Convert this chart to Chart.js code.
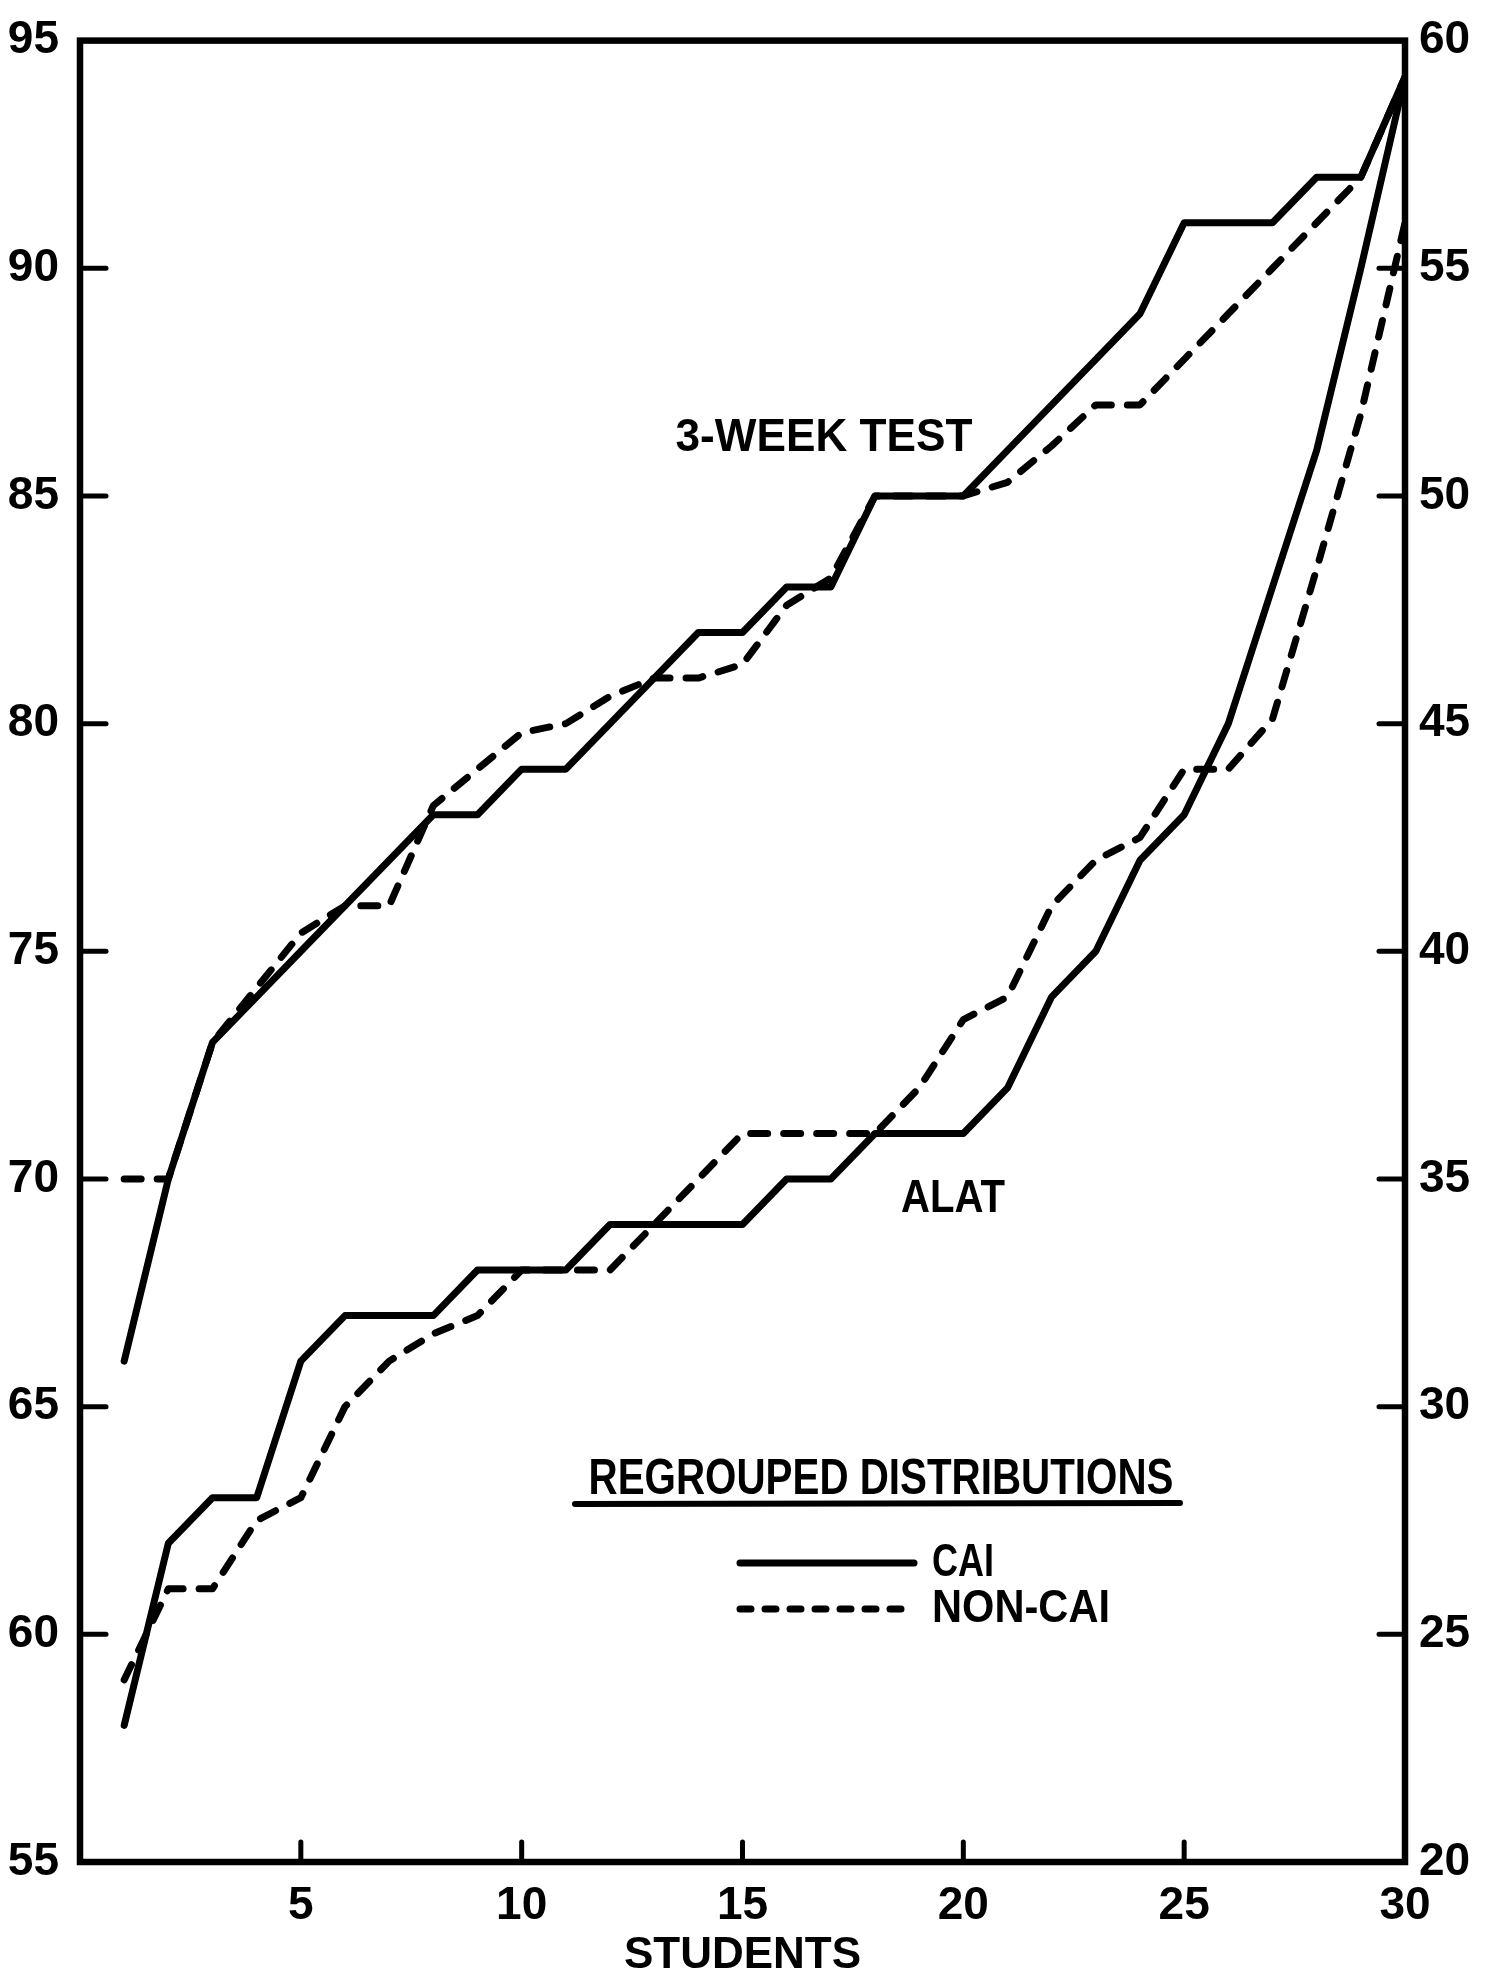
<!DOCTYPE html>
<html>
<head>
<meta charset="utf-8">
<script src="https://cdn.jsdelivr.net/npm/chart.js@4.4.1/dist/chart.umd.min.js"></script>
<style>
html,body{margin:0;padding:0;background:#fff;}
canvas{display:block;}
</style>
</head>
<body>
<canvas id="c" width="1493" height="1985"></canvas>
<script>
// ---- data ----
const students = [1,2,3,4,5,6,7,8,9,10,11,12,13,14,15,16,17,18,19,20,21,22,23,24,25,26,27,28,29,30];
// 3-WEEK TEST (left axis)
const weekCAI    = [66,70,73,74,75,76,77,78,78,79,79,80,81,82,82,83,83,85,85,85,86,87,88,89,91,91,91,92,92,94.2];
const weekNonCAI = [70,70,73,74.2,75.4,76,76,78.2,79,79.8,80,80.6,81,81,81.3,82.6,83.2,85,85,85,85.3,86.1,87,87,88,89,90,91,92,94.2];
// ALAT (right axis)
const alatCAI    = [23,27,28,28,31,32,32,32,33,33,33,34,34,34,34,35,35,36,36,36,37,39,40,42,43,45,48,51,55,59.2];
const alatNonCAI = [24,26,26,27.5,28,30,31,31.6,32,33,33,33,34,35,36,36,36,36,37,38.5,39,41,42,42.5,44,44,45.1,48.4,51.8,56];
// axes
const xTickValues = [5,10,15,20,25,30];
const leftTickValues = [55,60,65,70,75,80,85,90,95];
const rightTickValues = [20,25,30,35,40,45,50,55,60];
const xTitle = 'STUDENTS';
const seriesNames = ['CAI','NON-CAI'];

const FONT = '"Liberation Sans", Arial, sans-serif';
const toPts = vals => students.map((s, i) => ({x: s, y: vals[i]}));
const DASH = [17, 16];

function lineDs(label, vals, axis, dashed) {
  return {
    label, data: toPts(vals), yAxisID: axis,
    borderColor: '#000', borderWidth: 7, pointRadius: 0, tension: 0,
    borderJoinStyle: 'round', borderCapStyle: 'round', fill: false,
    borderDash: dashed ? DASH : []
  };
}

function fitText(ctx, text, x, y, width, px, align) {
  ctx.save();
  ctx.font = 'bold ' + px + 'px ' + FONT;
  const m = ctx.measureText(text).width;
  ctx.translate(x, y);
  ctx.scale(width / m, 1);
  ctx.textAlign = align;
  ctx.textBaseline = 'middle';
  ctx.fillStyle = '#000';
  ctx.fillText(text, 0, 0);
  ctx.restore();
}

const framePlugin = {
  id: 'frameAndNotes',
  afterDatasetsDraw(chart) {
    const {ctx, chartArea: a, scales} = chart;
    ctx.save();
    ctx.strokeStyle = '#000';
    ctx.lineWidth = 6.5;
    ctx.lineJoin = 'miter';
    ctx.strokeRect(a.left, a.top, a.right - a.left, a.bottom - a.top);
    // inward tick marks
    ctx.lineWidth = 5;
    ctx.lineCap = 'round';
    const seg = (x1, y1, x2, y2) => { ctx.beginPath(); ctx.moveTo(x1, y1); ctx.lineTo(x2, y2); ctx.stroke(); };
    leftTickValues.slice(1, -1).forEach(v => { const y = scales.y.getPixelForValue(v); seg(a.left, y, a.left + 26, y); });
    rightTickValues.slice(1, -1).forEach(v => { const y = scales.y2.getPixelForValue(v); seg(a.right - 26, y, a.right, y); });
    xTickValues.slice(0, -1).forEach(v => { const x = scales.x.getPixelForValue(v); seg(x, a.bottom, x, a.bottom - 20); });

    // curve labels
    fitText(ctx, '3-WEEK TEST', 824, 438, 297, 46, 'center');
    fitText(ctx, 'ALAT', 953, 1199, 104, 46, 'center');

    // legend
    fitText(ctx, 'REGROUPED DISTRIBUTIONS', 881, 1480, 585, 50, 'center');
    ctx.lineWidth = 6;
    seg(575, 1504, 1180, 1503);
    ctx.lineWidth = 7;
    seg(740, 1563, 914, 1563);
    ctx.setLineDash([11, 14]);
    seg(740, 1609, 914, 1609);
    ctx.setLineDash([]);
    fitText(ctx, seriesNames[0], 932, 1563, 62, 46, 'left');
    fitText(ctx, seriesNames[1], 932, 1609, 178, 46, 'left');
    ctx.restore();
  }
};

const tickFont = {family: FONT, weight: 'bold', size: 46};

new Chart(document.getElementById('c'), {
  type: 'line',
  data: {
    datasets: [
      lineDs('3-WEEK TEST CAI', weekCAI, 'y', false),
      lineDs('3-WEEK TEST NON-CAI', weekNonCAI, 'y', true),
      lineDs('ALAT CAI', alatCAI, 'y2', false),
      lineDs('ALAT NON-CAI', alatNonCAI, 'y2', true)
    ]
  },
  options: {
    responsive: false,
    animation: false,
    devicePixelRatio: 1,
    layout: {padding: {top: 31, left: 0, right: 0, bottom: 0}},
    plugins: {legend: {display: false}, tooltip: {enabled: false}},
    scales: {
      x: {
        type: 'linear', position: 'bottom', min: 0, max: 30,
        afterBuildTicks: ax => { ax.ticks = xTickValues.map(v => ({value: v})); },
        afterFit: ax => { ax.height = 123; },
        grid: {display: false}, border: {display: false},
        ticks: {color: '#000', font: tickFont, padding: 9, maxRotation: 0, autoSkip: false},
        title: {display: true, text: xTitle, color: '#000', font: {family: FONT, weight: 'bold', size: 44}, padding: {top: 0, bottom: 3}}
      },
      y: {
        type: 'linear', position: 'left', min: 55, max: 95,
        afterBuildTicks: ax => { ax.ticks = leftTickValues.map(v => ({value: v})); },
        afterFit: ax => { ax.width = 80; },
        grid: {display: false}, border: {display: false},
        ticks: {color: '#000', font: tickFont, padding: 13, autoSkip: false}
      },
      y2: {
        type: 'linear', position: 'right', min: 20, max: 60,
        afterBuildTicks: ax => { ax.ticks = rightTickValues.map(v => ({value: v})); },
        afterFit: ax => { ax.width = 88; },
        grid: {display: false}, border: {display: false},
        ticks: {color: '#000', font: tickFont, padding: 6, autoSkip: false}
      }
    }
  },
  plugins: [framePlugin]
});
</script>
</body>
</html>
